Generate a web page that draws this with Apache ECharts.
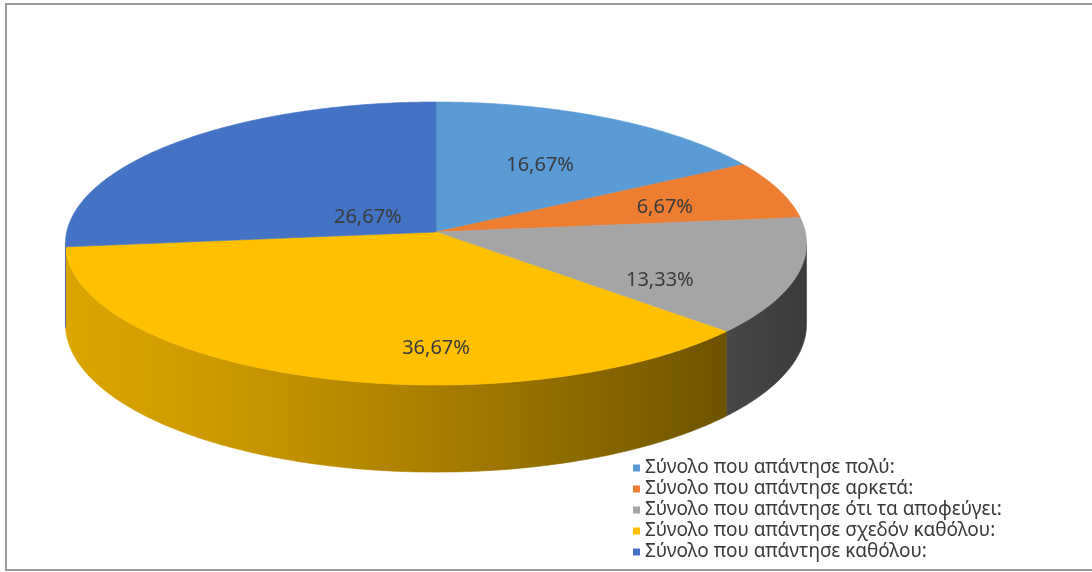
<!DOCTYPE html>
<html>
<head>
<meta charset="utf-8">
<script src="https://cdn.jsdelivr.net/npm/echarts@6/dist/echarts.min.js"></script>
<style>
  html, body { margin: 0; padding: 0; background: #ffffff; }
  #chart { width: 1092px; height: 572px; }
</style>
</head>
<body>
<div id="chart"></div>
<script>
// Answer groups and their share of respondents (%)
const categories = [
  'Σύνολο που απάντησε πολύ:',
  'Σύνολο που απάντησε αρκετά:',
  'Σύνολο που απάντησε ότι τα αποφεύγει:',
  'Σύνολο που απάντησε σχεδόν καθόλου:',
  'Σύνολο που απάντησε καθόλου:'
];
const shares = [16.67, 6.67, 13.33, 36.67, 26.67];
const sliceColors = ['#5b9bd5', '#ed7d31', '#a5a5a5', '#ffc000', '#4472c4'];

// Where each value label sits on the disc: angular shift from the slice middle (deg) and radius fraction
const labelTurn = [0.6, 2, 11.4, -18, -12];
const labelRadius = [0.576, 0.654, 0.677, 0.773, 0.215];

// Tilted-disc projection (screen pixels)
const CX = 436, CY = 232;     // projected centre of the top face
const RX = 369.3, RY = 140.6; // horizontal / vertical half-axes
const PERSP = 0.0813;         // perspective strength (near edge larger)
const DEPTH = 80;             // thickness of the disc
const FONT = '"Noto Sans", "DejaVu Sans", sans-serif';

const total = shares.reduce((a, b) => a + b, 0);
const starts = [];
let acc = 0;
shares.forEach(v => { starts.push(acc / total * 360); acc += v; });

function project(deg, r, drop) {
  const t = deg * Math.PI / 180;
  const u = r * Math.sin(t), v = -r * Math.cos(t);
  const w = 1 - PERSP * v;
  return [CX + RX * u / w, CY + (RY * v + drop) / w];
}

// visible side wall runs between the two horizontal extremes of the rim
const sideFrom = Math.acos(-PERSP) * 180 / Math.PI;
const sideTo = 360 - sideFrom;

function shade(hex, f) {
  const n = parseInt(hex.slice(1), 16);
  const r = Math.round(((n >> 16) & 255) * f);
  const g = Math.round(((n >> 8) & 255) * f);
  const b = Math.round((n & 255) * f);
  return 'rgb(' + r + ',' + g + ',' + b + ')';
}

function sideFill(hex) {
  const stops = [];
  for (let i = 0; i <= 10; i++) {
    const t = i / 10;
    stops.push({ offset: t, color: shade(hex, 0.86 - 0.5 * Math.pow(t, 1.3)) });
  }
  return {
    type: 'linear', global: true,
    x: CX - RX, y: 0, x2: CX + RX, y2: 0,
    colorStops: stops
  };
}

function arcPoints(a, b, r, drop) {
  const pts = [];
  const n = Math.max(2, Math.ceil((b - a) / 0.5));
  for (let i = 0; i <= n; i++) pts.push(project(a + (b - a) * i / n, r, drop));
  return pts;
}

function makeRender(idx) {
  return function (params, api) {
    const a = starts[idx];
    const b = a + shares[idx] / total * 360;
    const color = sliceColors[idx];
    const children = [];

    // front wall
    const s0 = Math.max(a, sideFrom), s1 = Math.min(b, sideTo);
    if (s1 - s0 > 0.01) {
      const top = arcPoints(s0, s1, 1, 0);
      const bottom = arcPoints(s0, s1, 1, DEPTH).reverse();
      const fill = sideFill(color);
      children.push({
        type: 'polygon',
        shape: { points: top.concat(bottom) },
        style: { fill: fill, stroke: fill, lineWidth: 0.6 }
      });
    }

    // top face
    const face = [project(0, 0, 0)].concat(arcPoints(a, b, 1, 0));
    children.push({
      type: 'polygon',
      shape: { points: face },
      style: { fill: color, stroke: color, lineWidth: 0.6 }
    });

    // value label
    const mid = (a + b) / 2 + labelTurn[idx];
    const p = project(mid, labelRadius[idx], 0);
    children.push({
      type: 'text',
      z2: 10,
      style: {
        text: shares[idx].toFixed(2).replace('.', ',') + '%',
        x: p[0], y: p[1],
        align: 'center', verticalAlign: 'middle',
        fill: '#3a3a3a',
        font: '20px ' + FONT
      }
    });

    return { type: 'group', children: children };
  };
}

const chart = echarts.init(document.getElementById('chart'), null, { renderer: 'canvas' });

chart.setOption({
  backgroundColor: '#ffffff',
  animation: false,
  graphic: [{
    type: 'rect',
    shape: { x: 6, y: 4, width: 1110, height: 566 },
    style: { fill: 'none', stroke: '#9c9c9c', lineWidth: 2 },
    z: -10
  }],
  legend: {
    orient: 'vertical',
    left: 628,
    top: 453,
    icon: 'rect',
    itemWidth: 7,
    itemHeight: 7,
    itemGap: 1,
    textStyle: { fontFamily: FONT, fontSize: 19, lineHeight: 20, color: '#3a3a3a' },
    data: categories
  },
  series: categories.map((name, i) => ({
    type: 'custom',
    name: name,
    coordinateSystem: 'none',
    itemStyle: { color: sliceColors[i] },
    renderItem: makeRender(i),
    data: [shares[i]],
    silent: true
  }))
});
</script>
</body>
</html>
